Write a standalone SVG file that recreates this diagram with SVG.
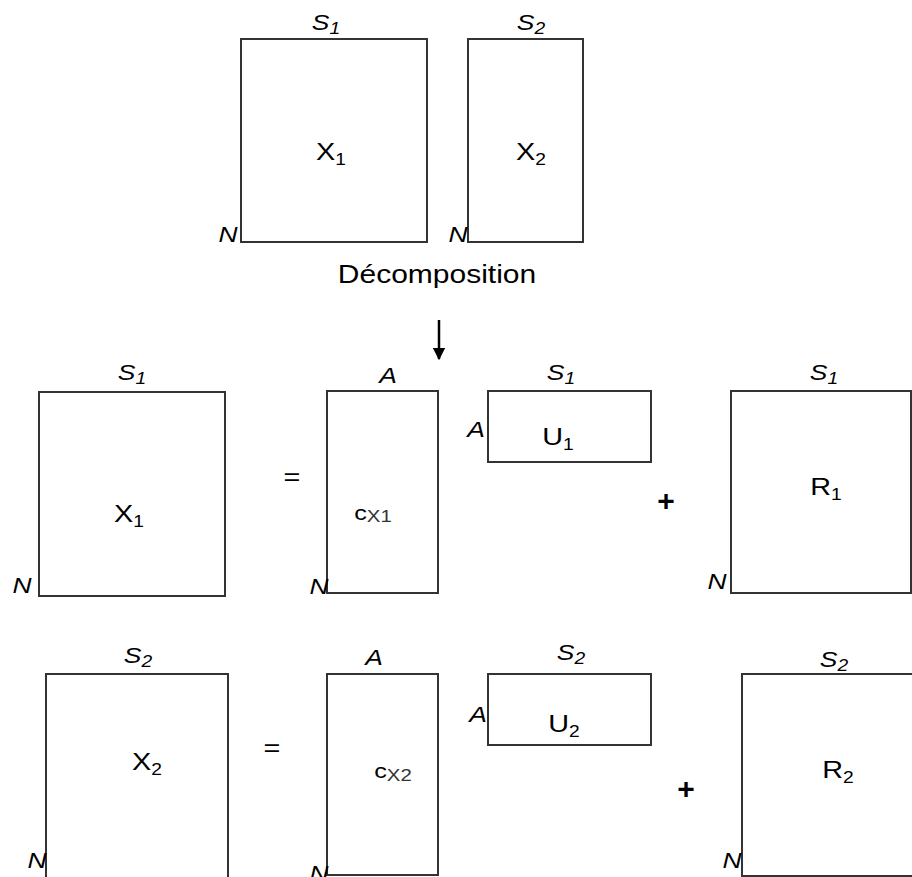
<svg xmlns="http://www.w3.org/2000/svg" width="912" height="877" viewBox="0 0 912 877">
  <defs>
    <style>
      .box { fill: #ffffff; stroke: #333333; stroke-width: 2; }
      .lbl { font-family: "Liberation Sans", Arial, sans-serif; font-size: 24px; fill: #000; text-anchor: middle; }
      .dim { font-family: "Liberation Sans", Arial, sans-serif; font-size: 22px; font-style: italic; fill: #000; text-anchor: middle; }
      .sub { font-size: 16px; }
      .csub { font-size: 17px; fill: #333; }
      .op { font-family: "Liberation Sans", Arial, sans-serif; font-size: 24px; fill: #000; text-anchor: middle; }
      .plus { font-family: "Liberation Sans", Arial, sans-serif; font-size: 30px; font-weight: bold; fill: #000; text-anchor: middle; }
      .arrow { stroke: #000; stroke-width: 2.5; fill: none; }
    </style>
    <marker id="head" viewBox="0 0 10 10" refX="9" refY="5" markerWidth="5" markerHeight="5" markerUnits="strokeWidth" orient="auto">
      <path d="M0,0 L10,5 L0,10 z" fill="#000"/>
    </marker>
  </defs>
  <rect width="912" height="877" fill="#ffffff"/>

  <!-- source blocks -->
  <g id="X1-top">
    <rect class="box" x="241" y="39" width="186" height="203"/>
    <text class="dim" transform="translate(326,30) scale(1.2,1)">S<tspan class="sub" dy="4">1</tspan></text>
    <text class="lbl" transform="translate(331,160) scale(1.2,1)">X<tspan class="sub" dy="5">1</tspan></text>
    <text class="dim" transform="translate(228,242) scale(1.2,1)">N</text>
  </g>
  <g id="X2-top">
    <rect class="box" x="468" y="39" width="115" height="203"/>
    <text class="dim" transform="translate(531,30) scale(1.2,1)">S<tspan class="sub" dy="4">2</tspan></text>
    <text class="lbl" transform="translate(531,160) scale(1.2,1)">X<tspan class="sub" dy="5">2</tspan></text>
    <text class="dim" transform="translate(458,242) scale(1.2,1)">N</text>
  </g>
  <text class="lbl" style="font-size:25px" transform="translate(437,283) scale(1.2,1)">Décomposition</text>

  <g id="connectors">
    <line class="arrow" x1="439" y1="320" x2="439" y2="359" marker-end="url(#head)"/>
  </g>

  <!-- first block decomposition -->
  <g id="X1">
    <rect class="box" x="39" y="392" width="186" height="204"/>
    <text class="dim" transform="translate(132,380) scale(1.2,1)">S<tspan class="sub" dy="4">1</tspan></text>
    <text class="lbl" transform="translate(129,522) scale(1.2,1)">X<tspan class="sub" dy="5">1</tspan></text>
    <text class="dim" transform="translate(22,593) scale(1.2,1)">N</text>
  </g>
  <text class="op" transform="translate(292,485) scale(1.2,1)">=</text>
  <g id="cX1">
    <rect class="box" x="327" y="391" width="111" height="202"/>
    <text class="dim" transform="translate(388,383) scale(1.2,1)">A</text>
    <text class="lbl" style="font-size:21px" transform="translate(373,520) scale(1.2,1)">c<tspan class="csub" dy="2">X1</tspan></text>
    <text class="dim" transform="translate(319,594) scale(1.2,1)">N</text>
  </g>
  <g id="U1">
    <rect class="box" x="488" y="391" width="163" height="71"/>
    <text class="dim" transform="translate(561,380) scale(1.2,1)">S<tspan class="sub" dy="4">1</tspan></text>
    <text class="lbl" transform="translate(558,445) scale(1.2,1)">U<tspan class="sub" dy="5">1</tspan></text>
    <text class="dim" transform="translate(476,437) scale(1.2,1)">A</text>
  </g>
  <text class="plus" transform="translate(666,511)">+</text>
  <g id="R1">
    <rect class="box" x="731" y="391" width="180" height="202"/>
    <text class="dim" transform="translate(824,380) scale(1.2,1)">S<tspan class="sub" dy="4">1</tspan></text>
    <text class="lbl" transform="translate(826,495) scale(1.2,1)">R<tspan class="sub" dy="5">1</tspan></text>
    <text class="dim" transform="translate(717,589) scale(1.2,1)">N</text>
  </g>

  <!-- second block decomposition -->
  <g id="X2">
    <rect class="box" x="46" y="674" width="182" height="204"/>
    <text class="dim" transform="translate(138,663) scale(1.2,1)">S<tspan class="sub" dy="4">2</tspan></text>
    <text class="lbl" transform="translate(147,770) scale(1.2,1)">X<tspan class="sub" dy="5">2</tspan></text>
    <text class="dim" transform="translate(37,868) scale(1.2,1)">N</text>
  </g>
  <text class="op" transform="translate(272,756) scale(1.2,1)">=</text>
  <g id="cX2">
    <rect class="box" x="327" y="674" width="111" height="201"/>
    <text class="dim" transform="translate(374,665) scale(1.2,1)">A</text>
    <text class="lbl" style="font-size:21px" transform="translate(393,778) scale(1.2,1)">c<tspan class="csub" dy="3">X2</tspan></text>
    <text class="dim" transform="translate(319,881) scale(1.2,1)">N</text>
  </g>
  <g id="U2">
    <rect class="box" x="488" y="674" width="163" height="71"/>
    <text class="dim" transform="translate(571,660) scale(1.2,1)">S<tspan class="sub" dy="4">2</tspan></text>
    <text class="lbl" transform="translate(564,732) scale(1.2,1)">U<tspan class="sub" dy="5">2</tspan></text>
    <text class="dim" transform="translate(478,722) scale(1.2,1)">A</text>
  </g>
  <text class="plus" transform="translate(686,799)">+</text>
  <g id="R2">
    <rect class="box" x="742" y="674" width="180" height="202"/>
    <text class="dim" transform="translate(834,667) scale(1.2,1)">S<tspan class="sub" dy="4">2</tspan></text>
    <text class="lbl" transform="translate(838,778) scale(1.2,1)">R<tspan class="sub" dy="5">2</tspan></text>
    <text class="dim" transform="translate(732,868) scale(1.2,1)">N</text>
  </g>
</svg>
